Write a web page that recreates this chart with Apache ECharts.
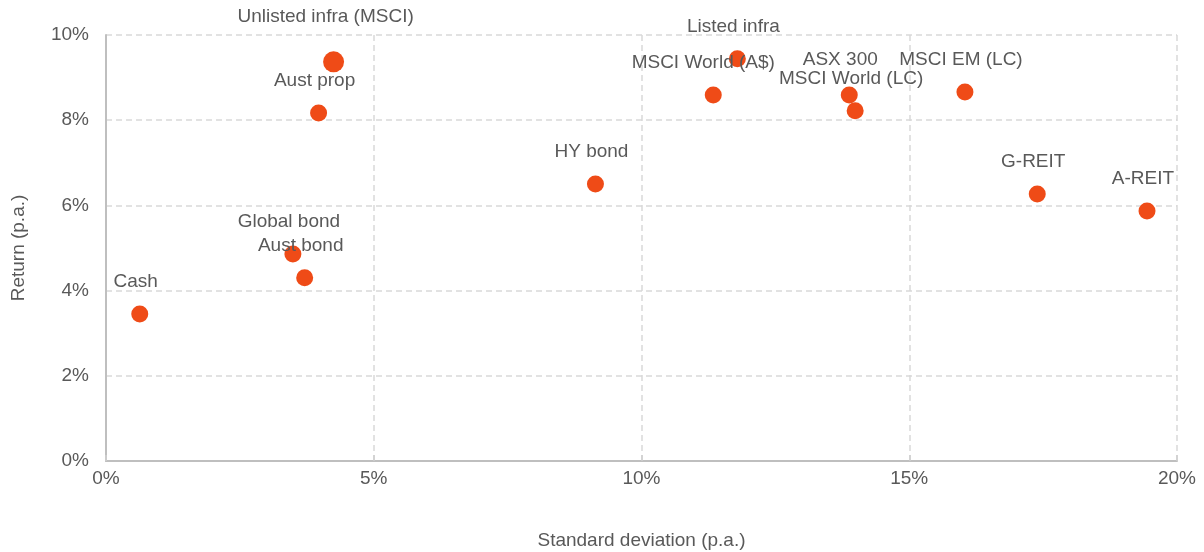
<!DOCTYPE html>
<html><head><meta charset="utf-8">
<script src="https://cdn.jsdelivr.net/npm/echarts@6/dist/echarts.min.js"></script>
<style>html,body{margin:0;padding:0;background:#fff}#c{width:1204px;height:552px}</style>
</head><body><div id="c"></div>
<script>
const names = ['Cash','Global bond','Aust bond','Aust prop','Unlisted infra (MSCI)','HY bond','MSCI World (A$)','Listed infra','ASX 300','MSCI World (LC)','MSCI EM (LC)','G-REIT','A-REIT'];
const stdDev = [0.63, 3.49, 3.71, 3.97, 4.25, 9.14, 11.34, 11.79, 13.88, 13.99, 16.04, 17.39, 19.44];
const returns = [3.45, 4.86, 4.30, 8.17, 9.37, 6.50, 8.59, 9.44, 8.59, 8.22, 8.66, 6.27, 5.87];
const xTicks = [0, 5, 10, 15, 20];
const yTicks = [0, 2, 4, 6, 8, 10];

// styling (not data)
const labelShift = {'Unlisted infra (MSCI)': [-8, -45], 'MSCI World (A$)': [-10, -32], 'ASX 300': [-9, -35]};
const bigSymbol = {'Unlisted infra (MSCI)': 21};
const FONT = '"Liberation Sans Narrow", "Arial Narrow", "Liberation Sans", sans-serif';
const TXT = '#595959';

const chart = echarts.init(document.getElementById('c'), null, {renderer: 'canvas'});
const seriesData = names.map((n, i) => ({
  name: n,
  value: [stdDev[i], returns[i]],
  symbolSize: bigSymbol[n] || 17
}));
chart.setOption({
  animation: false,
  grid: {left: 106, right: 27, top: 35, bottom: 91, outerBoundsMode: 'none', containLabel: false},
  xAxis: {
    type: 'value', min: 0, max: 20, interval: 5,
    name: 'Standard deviation (p.a.)', nameLocation: 'middle', nameGap: 70,
    nameTextStyle: {color: TXT, fontSize: 19, fontFamily: FONT},
    axisLine: {show: true, lineStyle: {color: '#bfbfbf', width: 2}},
    axisTick: {show: true, inside: true, length: 6, lineStyle: {color: '#d0d0d0', width: 1.5}},
    axisLabel: {color: TXT, fontSize: 19, fontFamily: FONT, margin: 8,
      formatter: v => xTicks.includes(v) ? v + '%' : ''},
    splitLine: {show: true, lineStyle: {color: '#d9d9d9', type: [6, 4], width: 1.5}}
  },
  yAxis: {
    type: 'value', min: 0, max: 10, interval: 2,
    name: 'Return (p.a.)', nameLocation: 'middle', nameGap: 78, nameRotate: 90,
    nameTextStyle: {color: TXT, fontSize: 19, fontFamily: FONT},
    axisLine: {show: true, lineStyle: {color: '#bfbfbf', width: 2}},
    axisTick: {show: false},
    axisLabel: {color: TXT, fontSize: 19, fontFamily: FONT, margin: 17,
      formatter: v => yTicks.includes(v) ? v + '%' : ''},
    splitLine: {show: true, lineStyle: {color: '#d9d9d9', type: [6, 4], width: 1.5}}
  },
  series: [{
    type: 'scatter',
    data: seriesData,
    itemStyle: {color: '#EF4B17', opacity: 1},
    label: {show: true, position: 'inside', formatter: p => p.name,
      color: TXT, fontSize: 19, fontFamily: FONT},
    labelLayout: function (params) {
      const n = names[params.dataIndex];
      const s = labelShift[n] || [-4, -32];
      return {dx: s[0], dy: s[1], hideOverlap: false};
    }
  }]
});
</script></body></html>
